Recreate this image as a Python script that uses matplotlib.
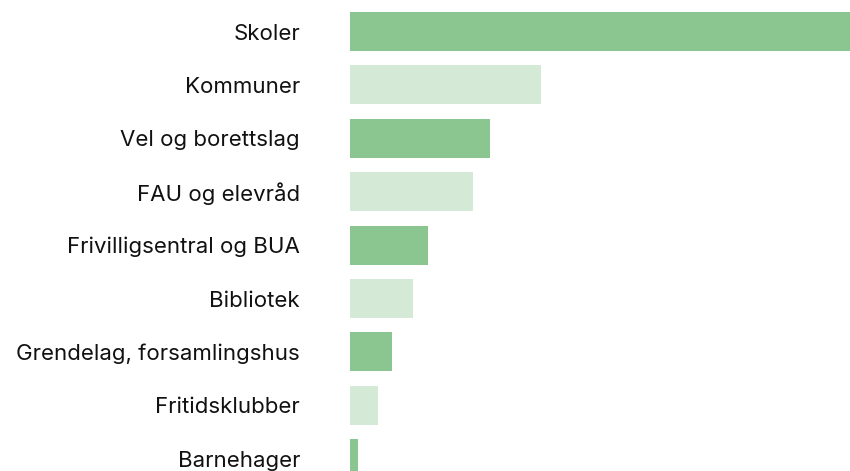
import matplotlib
matplotlib.use("Agg")
import matplotlib.pyplot as plt

categories = ["Skoler", "Kommuner", "Vel og borettslag", "FAU og elevråd",
              "Frivilligsentral og BUA", "Bibliotek", "Grendelag, forsamlingshus",
              "Fritidsklubber", "Barnehager"]
values = [500, 191, 140, 123, 78, 63, 42, 28, 8]
colors = ["#8bc58f", "#d5ead6"]

plt.rcParams['font.family'] = ['Inter', 'DejaVu Sans']

fig = plt.figure(figsize=(8.5, 4.71), dpi=100)
ax = fig.add_axes([350/850, 0, 500/850, 1])
pos = list(range(len(categories)))
ax.barh(pos, values, height=39/53.4,
        color=[colors[i % 2] for i in pos], linewidth=0)
ax.set_xlim(0, max(values))
ax.set_ylim((471 - 31.5) / 53.4, -31.5 / 53.4)
ax.set_yticks(pos)
ax.set_yticklabels(categories, fontsize=16, color="#111111")
ax.tick_params(axis='y', length=0, pad=36)
ax.set_xticks([])
for s in ax.spines.values():
    s.set_visible(False)
fig.savefig("out.png", dpi=100)
